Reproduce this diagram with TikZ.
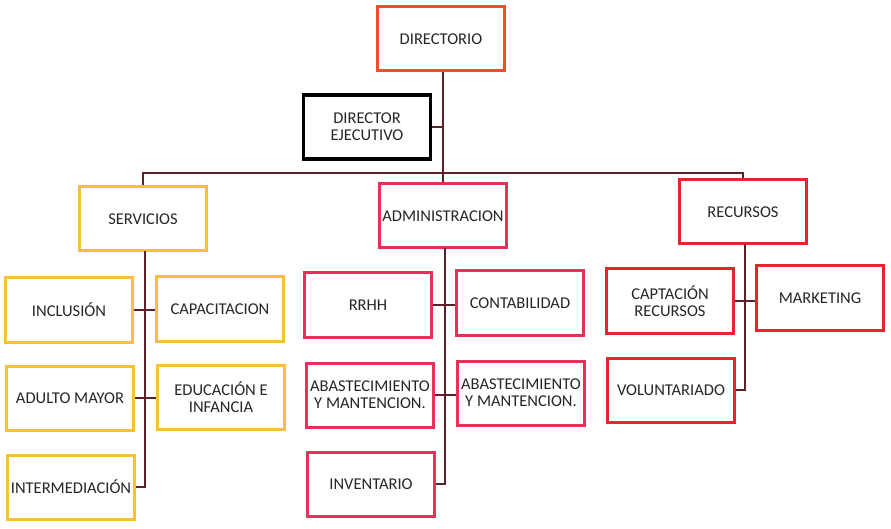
\documentclass[tikz,border=0pt]{standalone}
\usepackage{fontspec}
\setmainfont{Carlito}
\definecolor{cinnabar}{RGB}{240, 78, 42}
\definecolor{sunflower}{RGB}{248, 192, 58}
\definecolor{crimson}{RGB}{232, 48, 88}
\definecolor{scarlet}{RGB}{230, 36, 46}
\definecolor{wine}{RGB}{92, 32, 40}
\tikzset{
    unit/.style={draw, line width=3pt, fill=white, minimum width=127pt, minimum height=64pt,
                 inner sep=0pt, align=center, text=black!85, font=\fontsize{16.5}{17}\selectfont},
    link/.style={draw=wine, line width=1.6pt}
}

\begin{document}
\begin{tikzpicture}[x=1pt, y=-1pt]
            \useasboundingbox (0, 0) rectangle (891, 529);
            % cabeza
            \node[unit, draw=cinnabar]                      (dir)    at (441,  39) {DIRECTORIO};
            \node[unit, draw=black, line width=3.6pt]       (ejec)   at (367, 127) {DIRECTOR\\EJECUTIVO};
            % areas
            \node[unit, draw=sunflower]                     (serv)   at (143, 219) {SERVICIOS};
            \node[unit, draw=crimson]                       (admin)  at (443, 216) {ADMINISTRACION};
            \node[unit, draw=scarlet]                       (recur)  at (743, 212) {RECURSOS};
            % servicios
            \node[unit, draw=sunflower]                     (incl)   at ( 69, 310) {INCLUSIÓN};
            \node[unit, draw=sunflower]                     (capac)  at (220, 309) {CAPACITACION};
            \node[unit, draw=sunflower]                     (adulto) at ( 70, 398) {ADULTO MAYOR};
            \node[unit, draw=sunflower]                     (educ)   at (221, 397) {EDUCACIÓN E\\INFANCIA};
            \node[unit, draw=sunflower]                     (interm) at ( 71, 487) {INTERMEDIACIÓN};
            % administracion
            \node[unit, draw=crimson]                       (rrhh)   at (368, 305) {RRHH};
            \node[unit, draw=crimson]                       (conta)  at (520, 303) {CONTABILIDAD};
            \node[unit, draw=crimson]                       (abastA) at (370, 395) {ABASTECIMIENTO\\Y MANTENCION.};
            \node[unit, draw=crimson]                       (abastB) at (521, 393) {ABASTECIMIENTO\\Y MANTENCION.};
            \node[unit, draw=crimson]                       (invent) at (371, 484) {INVENTARIO};
            % recursos
            \node[unit, draw=scarlet]                       (capta)  at (670, 301) {CAPTACIÓN\\RECURSOS};
            \node[unit, draw=scarlet]                       (market) at (820, 298) {MARKETING};
            \node[unit, draw=scarlet]                       (volun)  at (671, 390) {VOLUNTARIADO};
            % conectores
            \coordinate (bar)    at (443, 173);
            \coordinate (spine)  at (443, 127);
            \coordinate (servS)  at (145, 251);
            \coordinate (adminS) at (445, 248);
            \coordinate (recurS) at (745, 244);
            \path[link] (dir.south -| bar) -- (admin.north);
            \path[link] (ejec.east) -- (spine);
            \path[link] (serv.north) |- (bar) -| (recur.north);
            \path[link] (servS) |- (interm.east);
            \path[link] (incl.east) -- (capac.west |- incl.east);
            \path[link] (adulto.east) -- (educ.west |- adulto.east);
            \path[link] (adminS) |- (invent.east);
            \path[link] (rrhh.east) -- (conta.west |- rrhh.east);
            \path[link] (abastA.east) -- (abastB.west |- abastA.east);
            \path[link] (recurS) |- (volun.east);
            \path[link] (capta.east) -- (market.west |- capta.east);
\end{tikzpicture}
\end{document}
